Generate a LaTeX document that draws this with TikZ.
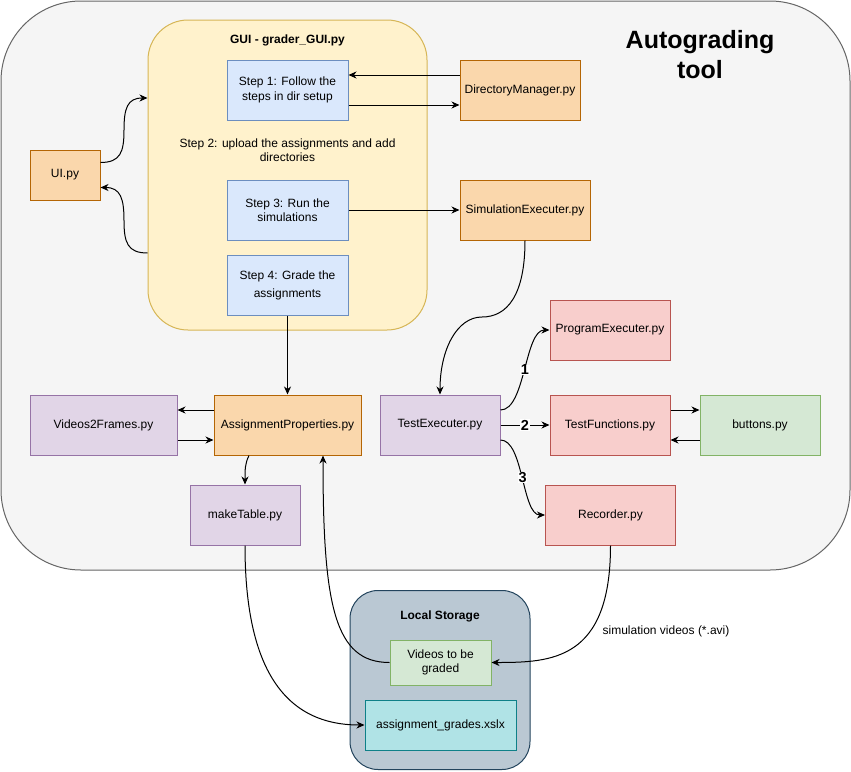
\documentclass[tikz,border=0pt]{standalone}
\usepackage{fontspec}
\setmainfont{Liberation Sans}
\usetikzlibrary{arrows.meta,calc}
\definecolor{outerfill}{HTML}{F5F5F5}
\definecolor{outerdraw}{HTML}{666666}
\definecolor{guifill}{HTML}{FFF2CC}
\definecolor{guidraw}{HTML}{D6B656}
\definecolor{bluefill}{HTML}{DAE8FC}
\definecolor{bluedraw}{HTML}{6C8EBF}
\definecolor{orfill}{HTML}{FAD7AC}
\definecolor{ordraw}{HTML}{B46504}
\definecolor{pufill}{HTML}{E1D5E7}
\definecolor{pudraw}{HTML}{9673A6}
\definecolor{rdfill}{HTML}{F8CECC}
\definecolor{rddraw}{HTML}{B85450}
\definecolor{grfill}{HTML}{D5E8D4}
\definecolor{grdraw}{HTML}{82B366}
\definecolor{lsfill}{HTML}{BAC8D3}
\definecolor{lsdraw}{HTML}{23445D}
\definecolor{tlfill}{HTML}{B0E3E6}
\definecolor{tldraw}{HTML}{0E8088}
\begin{document}
\begin{tikzpicture}[x=1pt,y=-1pt,
  txt/.style={font=\fontsize{12}{14.4}\selectfont, align=center, inner sep=0pt},
  box/.style={txt, draw, line width=1pt, minimum width=#1, minimum height=60pt},
  bluebox/.style={box=121pt, fill=bluefill, draw=bluedraw},
  orbox/.style={box=#1, fill=orfill, draw=ordraw},
  pubox/.style={box=#1, fill=pufill, draw=pudraw},
  rdbox/.style={box=#1, fill=rdfill, draw=rddraw},
  grbox/.style={box=#1, fill=grfill, draw=grdraw},
  arr/.style={line width=1pt, -{Stealth[length=8pt,width=7pt,inset=2.5pt]}},
  lbl/.style={font=\bfseries\fontsize{14.5}{16}\selectfont, fill=white, inner sep=0.5pt}
]
\useasboundingbox (0,0) rectangle (851,771);

% containers
\node[draw=outerdraw, fill=outerfill, line width=1pt, rounded corners=80pt,
      minimum width=849pt, minimum height=569pt, inner sep=0pt] (outer) at (425.5,285.5) {};
\node[draw=guidraw, fill=guifill, line width=1pt, rounded corners=40pt,
      minimum width=279pt, minimum height=310pt, inner sep=0pt] (gui) at (287.5,175) {};
\node[draw=lsdraw, fill=lsfill, line width=1pt, rounded corners=28pt,
      minimum width=180pt, minimum height=179pt, inner sep=0pt] (ls) at (440,680) {};

% titles
\node[txt, font=\bfseries\fontsize{12}{14.4}\selectfont] (guititle) at (287.5,40) {GUI - grader\_GUI.py};
\node[txt, font=\bfseries\fontsize{25}{30}\selectfont] (title) at (700,55) {Autograding\\tool};
\node[txt, font=\bfseries\fontsize{12}{14.4}\selectfont] (lstitle) at (440,616) {Local Storage};

% GUI steps
\node[bluebox] (step1) at (287.5,90) {Step 1: Follow the\\steps in dir setup};
\node[txt] (step2) at (287.5,150) {Step 2: upload the assignments and add\\directories};
\node[bluebox] (step3) at (287.5,210) {Step 3: Run the\\simulations};
\node[bluebox, font=\fontsize{12}{18}\selectfont] (step4) at (287.5,285) {Step 4: Grade the\\assignments};

% modules
\node[orbox=70pt, minimum height=50pt] (ui) at (65,175) {UI.py};
\node[orbox=120pt] (dm) at (520,90) {DirectoryManager.py};
\node[orbox=130pt] (se) at (525,210) {SimulationExecuter.py};
\node[rdbox=120pt] (pe) at (610,330) {ProgramExecuter.py};
\node[pubox=120pt] (te) at (440,425) {TestExecuter.py};
\node[rdbox=120pt] (tf) at (610,425) {TestFunctions.py};
\node[grbox=120pt] (btn) at (760,425) {buttons.py};
\node[rdbox=130pt] (rec) at (610.5,515) {Recorder.py};
\node[pubox=147pt] (v2f) at (103.5,425) {Videos2Frames.py};
\node[orbox=147pt] (ap) at (287.5,425) {AssignmentProperties.py};
\node[pubox=110pt] (mt) at (245,515) {makeTable.py};

% storage
\node[grbox=101pt, minimum height=45pt] (vg) at (440.5,662.5) {Videos to be\\graded};
\node[box=151pt, minimum height=50pt, fill=tlfill, draw=tldraw] (ag) at (440.5,725) {assignment\_grades.xslx};
\node[txt] (simvid) at (666,631) {simulation videos (*.avi)};

% connectors
\draw[arr] ([yshift=15pt]dm.west) -- ([yshift=15pt]step1.east);
\draw[arr] ([yshift=-15pt]step1.east) -- ([yshift=-15pt]dm.west);
\draw[arr] (step3.east) -- (se.west);
\draw[arr] (step4.south) -- (ap.north);
\draw[arr] ([yshift=12.5pt]ui.east) .. controls +(20,0) and +(0,22) .. (124,130)
           .. controls +(0,-22) and +(-20,0) .. ([yshift=77pt]gui.west);
\draw[arr] ([yshift=-78pt]gui.west) .. controls +(-20,0) and +(0,22) .. (124,220.5)
           .. controls +(0,-22) and +(20,0) .. ([yshift=-12.5pt]ui.east);
\draw[arr] (se.south) .. controls +(0,55) and +(25,0) .. (482,317)
           .. controls +(-25,0) and +(0,-45) .. (te.north);
\draw[arr] ([yshift=15pt]te.east) .. controls +(25,0) and +(-25,0) .. (pe.west) node[lbl, pos=0.5] {1};
\draw[arr] (te.east) -- (tf.west) node[lbl, pos=0.5] {2};
\draw[arr] ([yshift=-15pt]te.east) .. controls +(23,0) and +(-23,0) .. (rec.west) node[lbl, pos=0.5] {3};
\draw[arr] ([yshift=15pt]tf.east) -- ([yshift=15pt]btn.west);
\draw[arr] ([yshift=-15pt]btn.west) -- ([yshift=-15pt]tf.east);
\draw[arr] ([yshift=15pt]ap.west) -- ([yshift=15pt]v2f.east);
\draw[arr] ([yshift=-15pt]v2f.east) -- ([yshift=-15pt]ap.west);
\draw[arr] ([xshift=-38.5pt]ap.south) .. controls +(-4,8) and +(0,-15) .. (mt.north);
\draw[arr] (vg.west) .. controls +(-55,0) and +(0,150) .. ([xshift=35.5pt]ap.south);
\draw[arr] (mt.south) .. controls +(0,115) and +(-85,0) .. (ag.west);
\draw[arr] (rec.south) .. controls +(0,115) and +(60,0) .. (vg.east);
\end{tikzpicture}
\end{document}
